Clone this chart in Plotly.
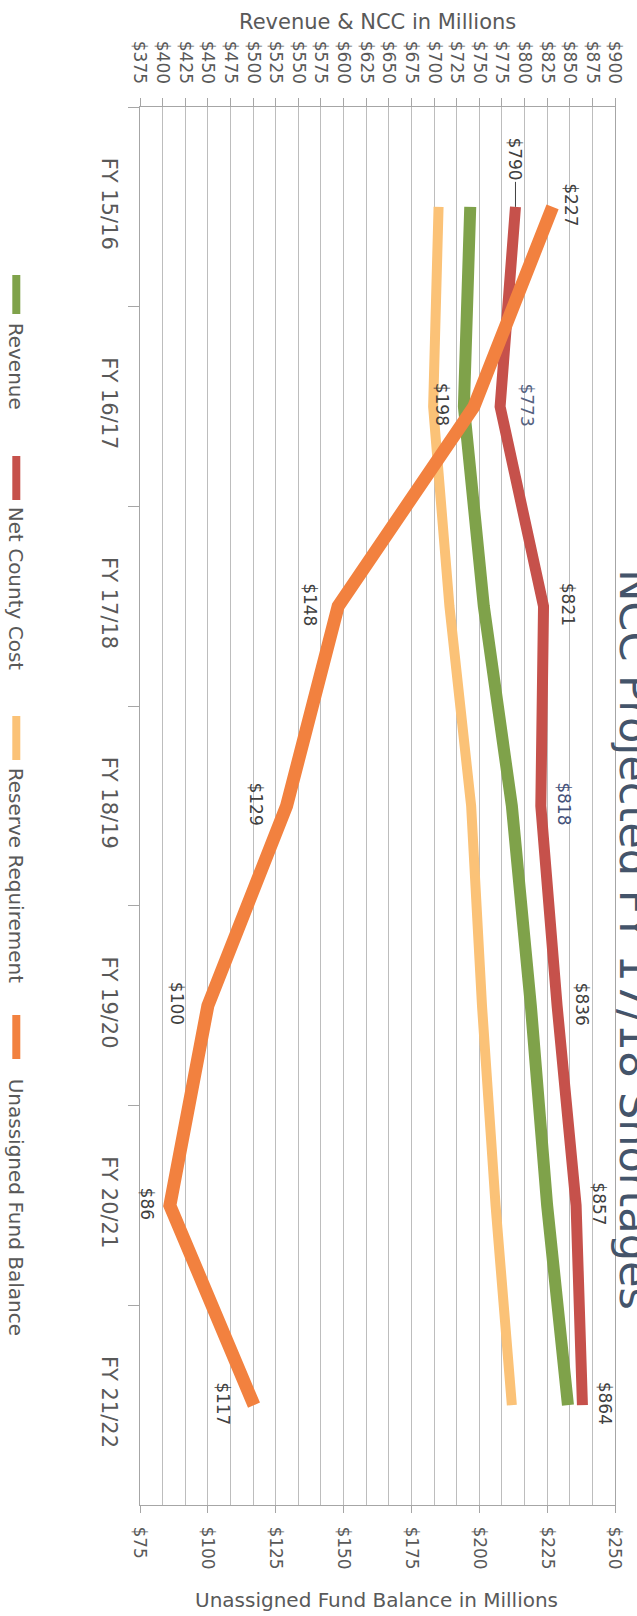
import plotly.graph_objects as go

# ---------------- data ----------------
fiscal_years = ["FY 15/16", "FY 16/17", "FY 17/18", "FY 18/19", "FY 19/20", "FY 20/21", "FY 21/22"]
revenue = [740, 733, 755, 786, 807, 825, 848]
net_county_cost = [790, 773, 821, 818, 836, 857, 864]
reserve_requirement = [185, 183, 189, 197, 201, 206, 212]
unassigned_fund_balance = [227, 198, 148, 129, 100, 86, 117]

ncc_labels = ["$790", "$773", "$821", "$818", "$836", "$857", "$864"]
ufb_labels = ["$227", "$198", "$148", "$129", "$100", "$86", "$117"]

series_names = ["Revenue", "Net County Cost", "Reserve Requirement", "Unassigned Fund Balance"]
series_colors = ["#7FA24A", "#C6514B", "#FBC277", "#F2813F"]

title_text = "NCC Projected FY 17/18 Shortages"

# ---------------- layout geometry ----------------
W, H = 637, 1616
L, R, T, B = 140, 17, 107, 111
PW, PH = W - L - R, H - T - B

def px2x(px):
    return (px - L) / PW

def px2y(py):
    return 1 - (py - T) / PH

FONT = "DejaVu Sans"
GRAY = "#595959"

fig = go.Figure()

widths = [12, 11, 10, 13]
data_sets = [(revenue, "x"), (net_county_cost, "x"), (reserve_requirement, "x2"), (unassigned_fund_balance, "x2")]
for (vals, xa), name, col, w in zip(data_sets, series_names, series_colors, widths):
    fig.add_trace(go.Scatter(
        x=vals, y=fiscal_years, xaxis=xa, yaxis="y", mode="lines", name=name,
        line=dict(color=col, width=w), showlegend=False,
    ))

annotations = []
C = dict(xanchor="center", yanchor="middle")
# data labels: Net County Cost (right of the line)
ncc_shift = [0, 27, 24, 23, 25, 22, 22]
ncc_colors = ["#404040", "#56627F", "#404040", "#45527A", "#404040", "#404040", "#404040"]
for i, (v, fy, lab) in enumerate(zip(net_county_cost, fiscal_years, ncc_labels)):
    if i == 0:
        annotations.append(dict(x=v, y=fy, xref="x", yref="y", text=lab, textangle=90,
                                showarrow=True, ax=0, ay=-48, arrowhead=0, arrowwidth=1,
                                arrowcolor="#404040", standoff=0,
                                font=dict(family=FONT, size=17, color=ncc_colors[i])))
    else:
        annotations.append(dict(x=v, y=fy, xref="x", yref="y", text=lab, textangle=90,
                                showarrow=False, xshift=ncc_shift[i], yshift=2, **C,
                                font=dict(family=FONT, size=17, color=ncc_colors[i])))
# data labels: Unassigned Fund Balance
ufb_shift = [19, -31, -28, -31, -31, -23, -31]
for i, (v, fy, lab) in enumerate(zip(unassigned_fund_balance, fiscal_years, ufb_labels)):
    annotations.append(dict(x=v, y=fy, xref="x2", yref="y", text=lab, textangle=90,
                            showarrow=False, xshift=ufb_shift[i], yshift=2, **C,
                            font=dict(family=FONT, size=17, color="#404040")))

# axis titles
annotations.append(dict(x=px2x(380), y=px2y(22), xref="paper", yref="paper",
                        text="Revenue & NCC in Millions", showarrow=False, **C,
                        font=dict(family=FONT, size=21, color=GRAY)))
annotations.append(dict(x=px2x(379), y=px2y(1600), xref="paper", yref="paper",
                        text="Unassigned Fund Balance in Millions", showarrow=False, **C,
                        font=dict(family=FONT, size=20, color=GRAY)))
# chart title (clipped at the right edge, as in the reference)
annotations.append(dict(x=px2x(640), y=px2y(940), xref="paper", yref="paper",
                        text=title_text, textangle=90, showarrow=False, **C,
                        font=dict(family=FONT, size=43, color="#44546A")))

# legend (rotated, built from shapes + text)
legend_swatch = [(272, 317), (453, 503), (713, 763), (1012, 1062)]
legend_text_center = [366, 589, 876, 1207]
shapes = []
for name, col, (y0, y1), yc in zip(series_names, series_colors, legend_swatch, legend_text_center):
    shapes.append(dict(type="line", xref="paper", yref="paper",
                       x0=px2x(15), x1=px2x(15), y0=px2y(y0 + 3), y1=px2y(y1 - 3),
                       line=dict(color=col, width=8)))
    annotations.append(dict(x=px2x(15), y=px2y(yc), xref="paper", yref="paper",
                            text=name, textangle=90, showarrow=False, **C,
                            font=dict(family=FONT, size=20, color=GRAY)))

fig.update_layout(
    width=W, height=H,
    margin=dict(l=L, r=R, t=T, b=B, pad=0),
    paper_bgcolor="white", plot_bgcolor="white",
    font=dict(family=FONT, color=GRAY),
    showlegend=False,
    xaxis=dict(side="top", range=[375, 900], tick0=375, dtick=25, tickprefix="$",
               tickangle=90, showgrid=True, gridcolor="#BDBDBD", gridwidth=1,
               showline=True, linecolor="#A6A6A6", linewidth=1,
               ticks="outside", ticklen=8, tickcolor="#A6A6A6",
               ticklabelstandoff=8, tickfont=dict(family=FONT, size=17, color=GRAY),
               zeroline=False, fixedrange=True),
    xaxis2=dict(overlaying="x", side="bottom", range=[75, 250], tick0=75, dtick=25,
                tickprefix="$", tickangle=90, showgrid=False,
                showline=True, linecolor="#A6A6A6", linewidth=1,
                ticks="outside", ticklen=7, tickcolor="#A6A6A6",
                ticklabelstandoff=10, tickfont=dict(family=FONT, size=17, color=GRAY),
                zeroline=False),
    yaxis=dict(type="category", categoryorder="array", categoryarray=fiscal_years,
               range=[6.5, -0.5], tickangle=90, tickson="boundaries",
               ticks="outside", ticklen=11, tickcolor="#A6A6A6",
               showline=True, mirror=True, linecolor="#A6A6A6", linewidth=1,
               showgrid=False, ticklabelstandoff=12,
               tickfont=dict(family=FONT, size=21, color=GRAY)),
    annotations=annotations,
    shapes=shapes,
)

fig.write_html("out.html", config={"displayModeBar": False},
               post_script="document.body.style.margin='0px';")
